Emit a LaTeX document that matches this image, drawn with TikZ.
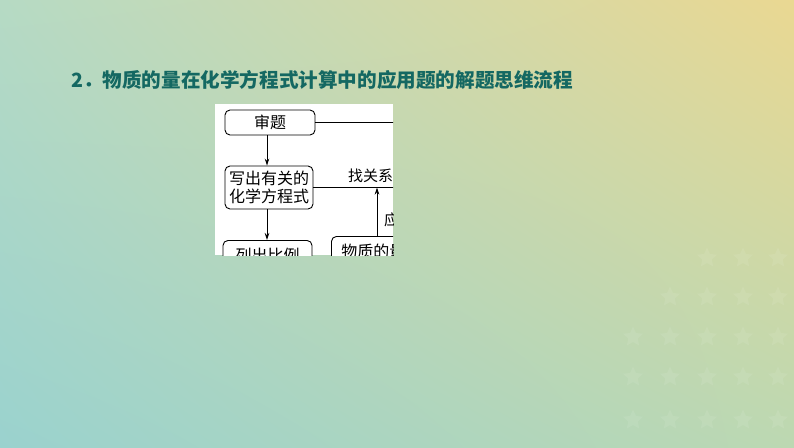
\documentclass[tikz,border=0pt]{standalone}
\usepackage{fontspec}
\newfontfamily\cjk{Noto Sans CJK SC}
\usetikzlibrary{shapes.geometric,arrows.meta,shadings}
\definecolor{bgtl}{RGB}{182,218,196}
\definecolor{bgtr}{RGB}{234,216,146}
\definecolor{bgbl}{RGB}{154,210,206}
\definecolor{bgbr}{RGB}{188,216,178}
\definecolor{titlecol}{RGB}{20,104,98}
\tikzset{
  flowbox/.style={draw=black, line width=0.9pt, rounded corners=5pt, fill=white, inner sep=0pt, font=\cjk\fontsize{16}{19}\selectfont, align=center},
  conn/.style={line width=0.8pt, draw=black},
  arr/.style={conn, -{Stealth[length=7pt,width=4.5pt]}},
  lbl/.style={font=\cjk\fontsize{15}{18}\selectfont, inner sep=0pt},
  faintstar/.style={star, star points=5, star point ratio=2.1, minimum size=21pt, inner sep=0pt, fill=white, fill opacity=0.08, draw=none}
}
\begin{document}
\begin{tikzpicture}[x=1pt,y=-1pt]
\useasboundingbox (0,0) rectangle (794,447);
\shade[upper left=bgtl, upper right=bgtr, lower left=bgbl, lower right=bgbr] (0,0) rectangle (794,447);
% faint stars
\foreach \yy/\xs in {258/{707,743,778}, 297/{670,707,743,778}, 337/{633,670,707,743,778}, 377/{633,670,707,743,778}, 420/{633,670,707,743,778}}{
  \foreach \xx in \xs { \node[faintstar] at (\xx,\yy) {}; }
}
% title
\node[anchor=west, inner sep=0pt, text=titlecol, font=\cjk\bfseries\fontsize{19.6}{22}\selectfont] (title) at (71,80) {2．物质的量在化学方程式计算中的应用题的解题思维流程};
% clipped diagram
\fill[white] (215,104) rectangle (393,255);
\begin{scope}
\clip (215,104) rectangle (393,255);
\node[flowbox, minimum width=90pt, minimum height=25pt] (shen) at (270,122.5) {审题};
\node[flowbox, minimum width=88pt, minimum height=43pt] (xie) at (269,187.5) {写出有关的\\[-1pt]化学方程式};
\node[flowbox, minimum width=89pt, minimum height=30pt, anchor=north] (lie) at (267.5,240) {列出比例};
\node[flowbox, minimum width=90pt, minimum height=30pt, anchor=north west] (wz) at (331,236) {\hspace*{-6pt}物质的量};
\coordinate (r1) at (420,122.5);
\coordinate (r2) at (420,187.5);
\coordinate (up) at (377,187.5);
\coordinate (a1) at (267,135);
\coordinate (a2) at (267,209);
\coordinate (wzt) at (377,236);
\draw[conn] (shen.east) -- (r1);
\draw[conn] (xie.east) -- (r2);
\draw[arr] (a1) -- (a1 |- xie.north);
\draw[arr] (a2) -- (a2 |- lie.north);
\draw[arr] (wzt) -- (up);
\node[lbl, anchor=west] (zhao) at (348,176) {找关系};
\node[lbl, anchor=west] (ying) at (384,220) {应};
\end{scope}
\end{tikzpicture}
\end{document}
